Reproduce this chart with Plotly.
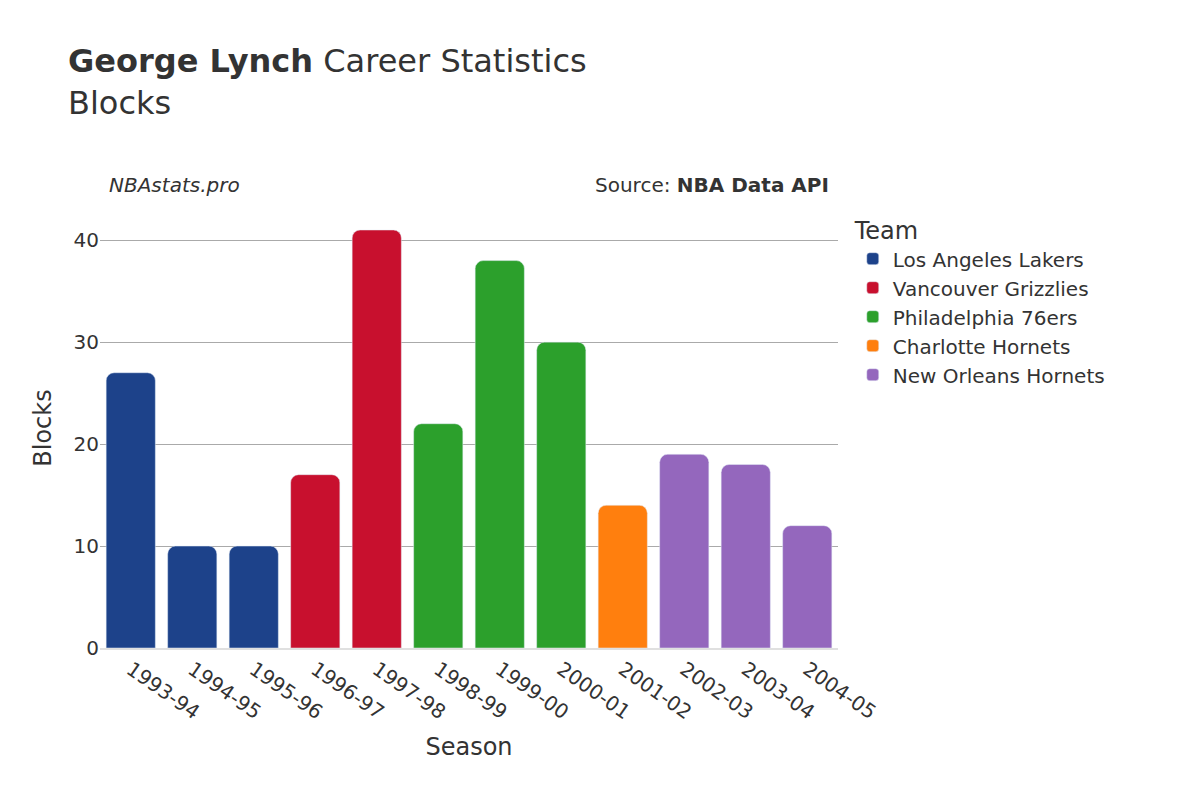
import plotly.graph_objects as go

seasons = ["1993-94", "1994-95", "1995-96", "1996-97", "1997-98", "1998-99",
           "1999-00", "2000-01", "2001-02", "2002-03", "2003-04", "2004-05"]
blocks = [27, 10, 10, 17, 41, 22, 38, 30, 14, 19, 18, 12]
teams = ["Los Angeles Lakers", "Los Angeles Lakers", "Los Angeles Lakers",
         "Vancouver Grizzlies", "Vancouver Grizzlies",
         "Philadelphia 76ers", "Philadelphia 76ers", "Philadelphia 76ers",
         "Charlotte Hornets",
         "New Orleans Hornets", "New Orleans Hornets", "New Orleans Hornets"]
team_colors = {
    "Los Angeles Lakers": "#1d428a",
    "Vancouver Grizzlies": "#c8102e",
    "Philadelphia 76ers": "#2ca02c",
    "Charlotte Hornets": "#ff7f0e",
    "New Orleans Hornets": "#9467bd",
}

fig = go.Figure()
for team, color in team_colors.items():
    xs = [s for s, t in zip(seasons, teams) if t == team]
    ys = [b for b, t in zip(blocks, teams) if t == team]
    fig.add_bar(x=xs, y=ys, name=team, marker_color=color)

fig.update_layout(
    width=1200, height=800,
    font=dict(family="DejaVu Sans", size=20, color="#333"),
    title=dict(text="<b>George Lynch</b> Career Statistics<br>Blocks",
               x=0.05, y=0.92, font=dict(size=32)),
    plot_bgcolor="white", paper_bgcolor="white",
    margin=dict(l=92, r=370, t=200, b=160),
    barcornerradius=8, bargap=0.2,
    legend=dict(title_text="Team", x=1.02, y=1.0, yanchor="top",
                font=dict(size=20)),
    xaxis=dict(title="Season", categoryorder="array", categoryarray=seasons,
               tickangle=35, showline=True, linecolor="#e0e0e0", linewidth=2),
    yaxis=dict(title="Blocks", gridcolor="#aaa", zeroline=False,
               tickvals=[0, 10, 20, 30, 40]),
    annotations=[
        dict(text="<i>NBAstats.pro</i>", xref="paper", yref="paper",
             x=0.01, y=1.02, xanchor="left", yanchor="bottom", showarrow=False),
        dict(text="Source: <b>NBA Data API</b>", xref="paper", yref="paper",
             x=0.99, y=1.02, xanchor="right", yanchor="bottom", showarrow=False),
    ],
)
fig.write_html("out.html")
